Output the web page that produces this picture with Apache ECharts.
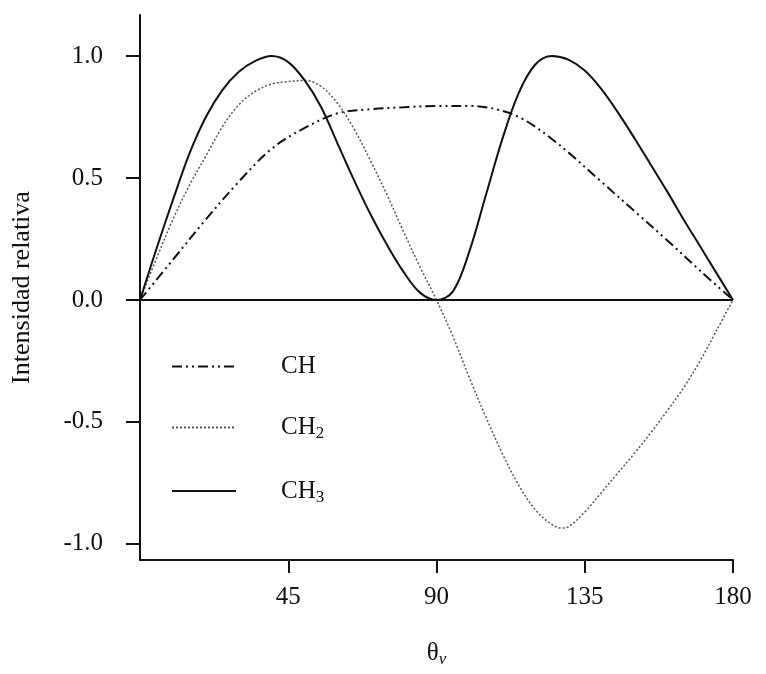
<!DOCTYPE html>
<html>
<head>
<meta charset="utf-8">
<script src="https://cdn.jsdelivr.net/npm/echarts@6/dist/echarts.min.js"></script>
<style>html,body{margin:0;padding:0;background:#fff;}#c{width:766px;height:674px;}</style>
</head>
<body>
<div id="c"></div>
<script>
// ---- data ----
const xTicks = [45, 90, 135, 180];
const yTicks = [-1.0, -0.5, 0.0, 0.5, 1.0];

const chTheta = [0, 10, 20, 30, 40, 50, 60, 70, 80, 90, 100, 105, 110, 115, 120, 125, 130, 140, 150, 160, 170, 180];
const chValue = [0, 0.165, 0.33, 0.485, 0.62, 0.705, 0.765, 0.782, 0.79, 0.795, 0.795, 0.79, 0.775, 0.75, 0.71, 0.66, 0.605, 0.485, 0.365, 0.245, 0.12, 0];

const ch2Theta = [0, 5, 10, 15, 20, 25, 30, 35, 40, 45, 50, 55, 60, 65, 70, 75, 80, 85, 90, 95, 100, 105, 110, 115, 120, 125, 128, 130, 135, 140, 145, 150, 155, 160, 165, 170, 175, 180];
const ch2Value = [0, 0.17, 0.33, 0.47, 0.59, 0.71, 0.80, 0.855, 0.885, 0.895, 0.90, 0.875, 0.805, 0.70, 0.57, 0.43, 0.28, 0.135, 0, -0.15, -0.32, -0.48, -0.63, -0.76, -0.86, -0.92, -0.935, -0.93, -0.87, -0.79, -0.71, -0.63, -0.545, -0.455, -0.36, -0.25, -0.125, 0];

const ch3Theta = [0, 5, 10, 15, 20, 25, 30, 35, 40, 45, 50, 55, 60, 65, 70, 75, 80, 85, 90, 95, 100, 105, 110, 115, 120, 125, 130, 135, 140, 145, 150, 155, 160, 165, 170, 175, 180];
const ch3Value = [0, 0.21, 0.41, 0.60, 0.75, 0.86, 0.935, 0.98, 1.0, 0.975, 0.90, 0.79, 0.64, 0.49, 0.35, 0.225, 0.115, 0.03, 0, 0.035, 0.20, 0.43, 0.66, 0.85, 0.965, 1.0, 0.985, 0.94, 0.865, 0.77, 0.665, 0.555, 0.445, 0.33, 0.22, 0.11, 0];

const seriesNames = ['CH', 'CH2', 'CH3'];
const legendLabels = {CH: '{g|}{t|CH}', CH2: '{g|}{t|CH}{s|2}', CH3: '{g|}{t|CH}{s|3}'};
const yName = 'Intensidad relativa';

const pairs = (xs, ys) => xs.map((x, i) => [x, ys[i]]);

const FONT = '"Liberation Serif", "DejaVu Serif", serif';
const INK = '#111';

const chart = echarts.init(document.getElementById('c'), null, {renderer: 'canvas'});
chart.setOption({
  animation: false,
  backgroundColor: '#fff',
  textStyle: {fontFamily: FONT, color: INK},
  grid: {left: 140, right: 33, top: 15, bottom: 114},
  legend: {
    orient: 'vertical',
    left: 166,
    top: 349,
    itemWidth: 64,
    itemHeight: 14,
    itemGap: 36,
    data: seriesNames,
    formatter: n => legendLabels[n],
    itemStyle: {color: 'rgba(0,0,0,0)', borderWidth: 0, opacity: 0},
    textStyle: {
      fontFamily: FONT,
      color: INK,
      rich: {
        g: {width: 40, height: 30},
        t: {fontFamily: FONT, fontSize: 25, color: INK, lineHeight: 30, verticalAlign: 'middle'},
        s: {fontFamily: FONT, fontSize: 17, color: INK, lineHeight: 30, verticalAlign: 'bottom', padding: [10, 0, 0, 0]}
      }
    }
  },
  xAxis: {
    type: 'value',
    min: 0,
    max: 180,
    interval: 45,
    name: '{a|θ}{b|v}',
    nameLocation: 'middle',
    nameGap: 78,
    nameTextStyle: {
      rich: {
        a: {fontFamily: FONT, fontSize: 25, color: INK, lineHeight: 30},
        b: {fontFamily: FONT, fontSize: 17, fontStyle: 'italic', color: INK, verticalAlign: 'bottom', padding: [10, 0, 0, 0], lineHeight: 30}
      }
    },
    axisLine: {show: true, onZero: false, lineStyle: {color: INK, width: 2}},
    axisTick: {show: true, length: 13, customValues: xTicks, lineStyle: {color: INK, width: 2}},
    axisLabel: {customValues: xTicks, fontFamily: FONT, fontSize: 25, color: INK, margin: 25},
    splitLine: {show: false}
  },
  yAxis: {
    type: 'value',
    min: -1.066,
    max: 1.168,
    name: yName,
    nameLocation: 'middle',
    nameRotate: 90,
    nameGap: 105,
    nameTextStyle: {fontFamily: FONT, fontSize: 26, color: INK},
    axisLine: {show: true, onZero: false, lineStyle: {color: INK, width: 2}},
    axisTick: {show: true, length: 14, customValues: yTicks, lineStyle: {color: INK, width: 2}},
    axisLabel: {customValues: yTicks, formatter: v => v.toFixed(1), fontFamily: FONT, fontSize: 25, color: INK, margin: 37},
    splitLine: {show: false}
  },
  series: [
    {
      name: 'CH', type: 'line', symbol: 'none', smooth: 0.35,
      data: pairs(chTheta, chValue),
      lineStyle: {color: INK, width: 2, type: [10, 4, 2, 4, 2, 4]},
      itemStyle: {color: INK}
    },
    {
      name: 'CH2', type: 'line', symbol: 'none', smooth: 0.35,
      data: pairs(ch2Theta, ch2Value),
      lineStyle: {color: '#555', width: 1.5, type: [2, 2]},
      itemStyle: {color: '#555'}
    },
    {
      name: 'CH3', type: 'line', symbol: 'none', smooth: 0.35,
      data: pairs(ch3Theta, ch3Value),
      lineStyle: {color: INK, width: 2, type: 'solid'},
      itemStyle: {color: INK},
      markLine: {
        silent: true, symbol: ['none', 'none'], label: {show: false},
        lineStyle: {color: INK, width: 2, type: 'solid'},
        data: [{yAxis: 0}]
      }
    }
  ]
});
</script>
</body>
</html>
